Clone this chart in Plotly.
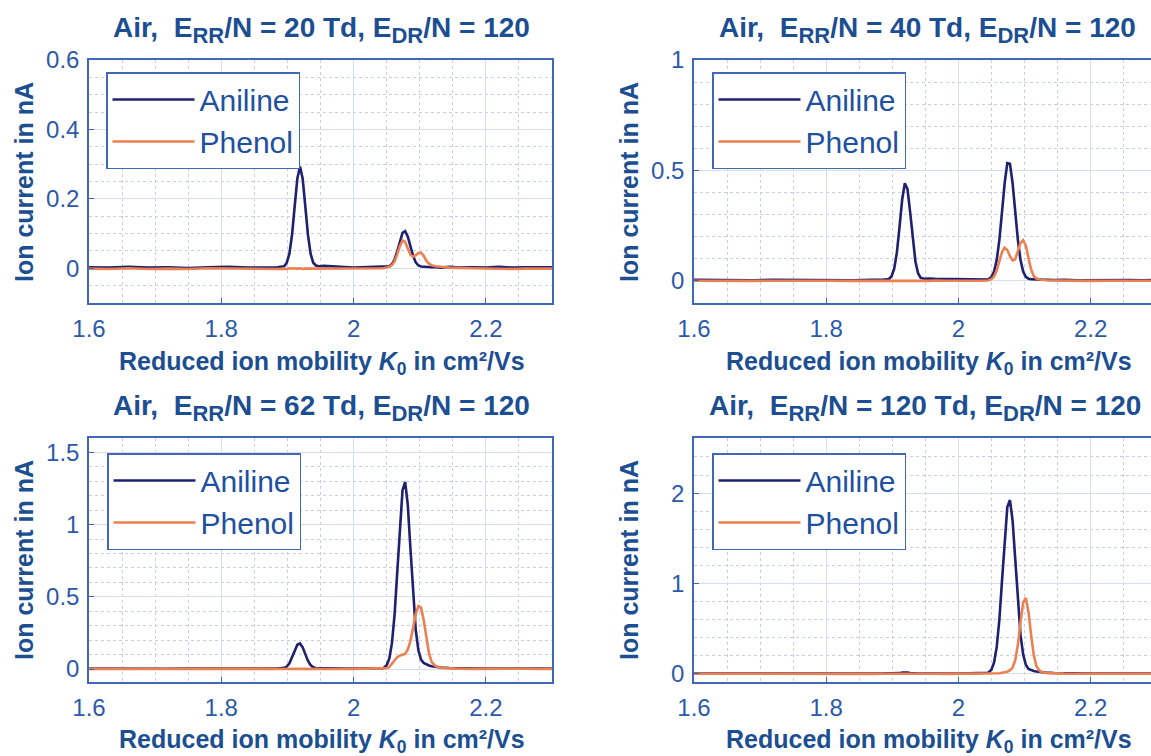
import plotly.graph_objects as go

# ---------------- data ----------------
K0 = [1.600, 1.630, 1.660, 1.690, 1.720, 1.750, 1.780, 1.810, 1.840, 1.870,
      1.885, 1.895, 1.899, 1.903, 1.907, 1.911, 1.915, 1.919, 1.923, 1.927,
      1.931, 1.935, 1.939, 1.943, 1.948, 1.955, 1.965, 1.980, 2.000, 2.020,
      2.035, 2.045, 2.050, 2.054, 2.058, 2.062, 2.066, 2.070, 2.074, 2.078,
      2.082, 2.086, 2.090, 2.094, 2.098, 2.102, 2.106, 2.110, 2.114, 2.118,
      2.124, 2.132, 2.145, 2.160, 2.180, 2.200, 2.220, 2.240, 2.260, 2.280,
      2.300]

ERR_TD = ["20", "40", "62", "120"]

aniline_20 = [0.003, 0.002, 0.004, 0.002, 0.003, 0.001, 0.003, 0.004, 0.002, 0.003,
              0.003, 0.006, 0.016, 0.042, 0.097, 0.179, 0.259, 0.293, 0.259, 0.179,
              0.097, 0.042, 0.016, 0.008, 0.006, 0.007, 0.005, 0.004, 0.002, 0.003,
              0.003, 0.004, 0.004, 0.006, 0.012, 0.025, 0.049, 0.078, 0.102, 0.107,
              0.091, 0.063, 0.036, 0.017, 0.008, 0.005, 0.004, 0.003, 0.004, 0.003,
              0.003, 0.002, 0.004, 0.002, 0.003, 0.002, 0.004, 0.002, 0.003, 0.002,
              0.003]
phenol_20 = [-0.001, -0.002, 0.000, -0.002, -0.001, -0.002, 0.000, -0.001, -0.002, -0.001,
             -0.002, -0.001, -0.002, 0.000, -0.001, -0.002, -0.001, 0.000, -0.002, -0.001,
             -0.001, -0.002, 0.000, -0.001, -0.002, -0.001, 0.000, -0.002, -0.001, 0.000,
             -0.001, 0.000, 0.002, 0.004, 0.009, 0.020, 0.040, 0.064, 0.080, 0.076,
             0.057, 0.039, 0.033, 0.037, 0.044, 0.045, 0.036, 0.022, 0.013, 0.009,
             0.006, 0.004, 0.002, 0.001, 0.000, -0.001, 0.000, -0.002, -0.001, 0.000,
             -0.001]

aniline_40 = [0.005, 0.004, 0.006, 0.003, 0.005, 0.004, 0.006, 0.005, 0.003, 0.005,
              0.005, 0.009, 0.022, 0.056, 0.130, 0.246, 0.370, 0.442, 0.416, 0.311,
              0.184, 0.088, 0.035, 0.014, 0.010, 0.011, 0.009, 0.008, 0.006, 0.005,
              0.005, 0.006, 0.018, 0.042, 0.094, 0.186, 0.312, 0.443, 0.533, 0.530,
              0.443, 0.312, 0.186, 0.094, 0.042, 0.018, 0.010, 0.008, 0.007, 0.006,
              0.006, 0.005, 0.004, 0.005, 0.003, 0.004, 0.005, 0.003, 0.004, 0.003,
              0.004]
phenol_40 = [0.001, 0.000, 0.002, 0.000, 0.001, 0.002, 0.000, 0.001, 0.000, 0.001,
             0.001, 0.000, 0.002, 0.001, 0.000, 0.001, 0.002, 0.001, 0.000, 0.001,
             0.001, 0.002, 0.000, 0.001, 0.001, 0.000, 0.002, 0.001, 0.000, 0.001,
             0.001, 0.002, 0.008, 0.020, 0.047, 0.090, 0.131, 0.150, 0.140, 0.112,
             0.093, 0.098, 0.135, 0.172, 0.184, 0.160, 0.105, 0.052, 0.022, 0.011,
             0.006, 0.003, 0.002, 0.001, 0.002, 0.000, 0.001, 0.002, 0.000, 0.001,
             0.001]

aniline_62 = [0.003, 0.002, 0.004, 0.003, 0.002, 0.004, 0.003, 0.002, 0.003, 0.004,
              0.003, 0.008, 0.017, 0.040, 0.079, 0.128, 0.168, 0.177, 0.150, 0.103,
              0.057, 0.027, 0.012, 0.007, 0.006, 0.006, 0.005, 0.004, 0.003, 0.003,
              0.004, 0.006, 0.026, 0.072, 0.179, 0.377, 0.668, 0.994, 1.239, 1.296,
              1.135, 0.833, 0.513, 0.270, 0.130, 0.065, 0.042, 0.031, 0.024, 0.019,
              0.014, 0.010, 0.007, 0.005, 0.004, 0.003, 0.004, 0.003, 0.004, 0.003,
              0.003]
phenol_62 = [0.001, 0.000, 0.002, 0.001, 0.000, 0.001, 0.002, 0.001, 0.000, 0.001,
             0.000, 0.001, 0.002, 0.001, 0.000, 0.001, 0.001, 0.002, 0.000, 0.001,
             0.001, 0.000, 0.002, 0.001, 0.000, 0.001, 0.002, 0.000, 0.001, 0.001,
             0.001, 0.002, 0.006, 0.015, 0.035, 0.062, 0.082, 0.093, 0.098, 0.105,
             0.135, 0.195, 0.285, 0.380, 0.435, 0.425, 0.340, 0.215, 0.110, 0.050,
             0.020, 0.008, 0.004, 0.002, 0.001, 0.002, 0.000, 0.001, 0.002, 0.000,
             0.001]

aniline_120 = [0.003, 0.004, 0.002, 0.003, 0.004, 0.003, 0.002, 0.004, 0.003, 0.004,
               0.003, 0.004, 0.003, 0.004, 0.005, 0.008, 0.015, 0.018, 0.015, 0.009,
               0.005, 0.004, 0.003, 0.004, 0.003, 0.004, 0.003, 0.004, 0.003, 0.004,
               0.005, 0.012, 0.046, 0.126, 0.298, 0.601, 1.031, 1.499, 1.845, 1.923,
               1.697, 1.269, 0.804, 0.431, 0.215, 0.100, 0.055, 0.040, 0.032, 0.026,
               0.020, 0.014, 0.009, 0.006, 0.004, 0.003, 0.004, 0.003, 0.004, 0.003,
               0.004]
phenol_120 = [0.001, 0.000, 0.002, 0.001, 0.000, 0.001, 0.002, 0.000, 0.001, 0.000,
              0.001, 0.002, 0.000, 0.001, 0.001, 0.000, 0.002, 0.001, 0.000, 0.001,
              0.002, 0.000, 0.001, 0.001, 0.000, 0.002, 0.001, 0.000, 0.001, 0.002,
              0.001, 0.001, 0.002, 0.002, 0.003, 0.006, 0.012, 0.018, 0.024, 0.040,
              0.070, 0.150, 0.322, 0.570, 0.790, 0.840, 0.688, 0.432, 0.210, 0.085,
              0.025, 0.010, 0.005, 0.003, 0.002, 0.001, 0.002, 0.001, 0.000, 0.001,
              0.001]

ANILINE = [aniline_20, aniline_40, aniline_62, aniline_120]
PHENOL = [phenol_20, phenol_40, phenol_62, phenol_120]

X_TICKS = [1.6, 1.8, 2.0, 2.2]
X_TICKTEXT = ["1.6", "1.8", "2", "2.2"]
Y_TICKS = [[0, 0.2, 0.4, 0.6], [0, 0.5, 1], [0, 0.5, 1, 1.5], [0, 1, 2]]
Y_TICKTEXT = [["0", "0.2", "0.4", "0.6"], ["0", "0.5", "1"], ["0", "0.5", "1", "1.5"], ["0", "1", "2"]]

# ---------------- style / layout ----------------
W, H = 1151, 756
NAVY = "#1e2070"
ORANGE = "#ec8050"
AXC = "#4068b4"
TICKC = "#2c5aa8"
TITLEC = "#1c4e92"
GRIDC = "#d5ddee"
MINORC = "#c6cfe4"
FONT = "Liberation Sans, Arial, sans-serif"

# pixel boxes of the four axes: (left, right, top, bottom)
boxes = [(89, 552, 60, 303), (694, 1151, 60, 303), (89, 552, 438, 682), (694, 1151, 438, 682)]
x_ranges = [[1.6, 2.3], [1.6, 2.2914], [1.6, 2.3], [1.6, 2.2914]]
y_ranges = [[-0.1, 0.6], [-0.1, 1.0], [-0.09, 1.6], [-0.09, 2.61]]
y_minor = [0.05, 0.1, 0.1, 0.2]
legend_pos = [(106, 72), (712, 72), (107, 453), (712, 453)]
title_pos = [(321, 30), (927, 30), (321, 408), (925, 408)]
xtitle_pos = [(322, 363), (929, 363), (322, 741), (929, 741)]
ytitle_pos = [(24, 182), (629, 182), (24, 560), (629, 560)]

SUB = '<sub><span style="font-size:22px">{}</span></sub>'

fig = go.Figure()
layout = dict(width=W, height=H, margin=dict(l=0, r=0, t=0, b=0, autoexpand=False),
              paper_bgcolor="white", plot_bgcolor="white",
              font=dict(family=FONT, color=TICKC), annotations=[])

for i in range(4):
    n = "" if i == 0 else str(i + 1)
    leg = "legend" if i == 0 else "legend" + str(i + 1)
    fig.add_trace(go.Scatter(x=K0, y=ANILINE[i], mode="lines", name="Aniline",
                             line=dict(color=NAVY, width=2.6), xaxis="x" + n, yaxis="y" + n,
                             legend=leg))
    fig.add_trace(go.Scatter(x=K0, y=PHENOL[i], mode="lines", name="Phenol",
                             line=dict(color=ORANGE, width=2.6), xaxis="x" + n, yaxis="y" + n,
                             legend=leg))
    l, r, t, b = boxes[i]
    layout["xaxis" + n] = dict(
        domain=[l / W, r / W], anchor="y" + n, range=x_ranges[i],
        tickvals=X_TICKS, ticktext=X_TICKTEXT, tickfont=dict(size=24, color=TICKC),
        showline=True, linecolor=AXC, linewidth=1.5, mirror=True,
        ticks="inside", ticklen=5, tickcolor=AXC, tickwidth=1.2,
        showgrid=True, gridcolor=GRIDC, gridwidth=1, zeroline=False,
        minor=dict(dtick=0.05, tick0=1.6, showgrid=True, gridcolor=MINORC, griddash="dot", gridwidth=1),
        ticklabelstandoff=3)
    layout["yaxis" + n] = dict(
        domain=[1 - b / H, 1 - t / H], anchor="x" + n, range=y_ranges[i],
        tickvals=Y_TICKS[i], ticktext=Y_TICKTEXT[i], tickfont=dict(size=24, color=TICKC),
        showline=True, linecolor=AXC, linewidth=1.5, mirror=True,
        ticks="inside", ticklen=5, tickcolor=AXC, tickwidth=1.2,
        showgrid=True, gridcolor=GRIDC, gridwidth=1, zeroline=False,
        minor=dict(dtick=y_minor[i], tick0=0, showgrid=True, gridcolor=MINORC, griddash="dot", gridwidth=1),
        ticklabelstandoff=3)
    lx, ly = legend_pos[i]
    layout[leg] = dict(x=lx / W, y=1 - ly / H, xanchor="left", yanchor="top",
                       bgcolor="white", bordercolor=AXC, borderwidth=1.5,
                       font=dict(size=30, color="#2050a0", family=FONT),
                       itemwidth=82, tracegroupgap=0)
    tx, ty = title_pos[i]
    layout["annotations"].append(dict(
        text="<b>Air,\u00a0 E" + SUB.format("RR") + "/N = " + ERR_TD[i] + " Td, E" + SUB.format("DR") + "/N = 120</b>",
        x=tx / W, y=1 - ty / H, xref="paper", yref="paper", xanchor="center", yanchor="middle",
        showarrow=False, font=dict(size=28, color=TITLEC, family=FONT)))
    xx, xy = xtitle_pos[i]
    layout["annotations"].append(dict(
        text="<b>Reduced ion mobility <i>K</i><sub>0</sub> in cm²/Vs</b>",
        x=xx / W, y=1 - xy / H, xref="paper", yref="paper", xanchor="center", yanchor="middle",
        showarrow=False, font=dict(size=25, color=TITLEC, family=FONT)))
    yx, yy = ytitle_pos[i]
    layout["annotations"].append(dict(
        text="<b>Ion current in nA</b>", textangle=-90,
        x=yx / W, y=1 - yy / H, xref="paper", yref="paper", xanchor="center", yanchor="middle",
        showarrow=False, font=dict(size=25, color=TITLEC, family=FONT)))

fig.update_layout(**layout)
fig.write_html("out.html")
